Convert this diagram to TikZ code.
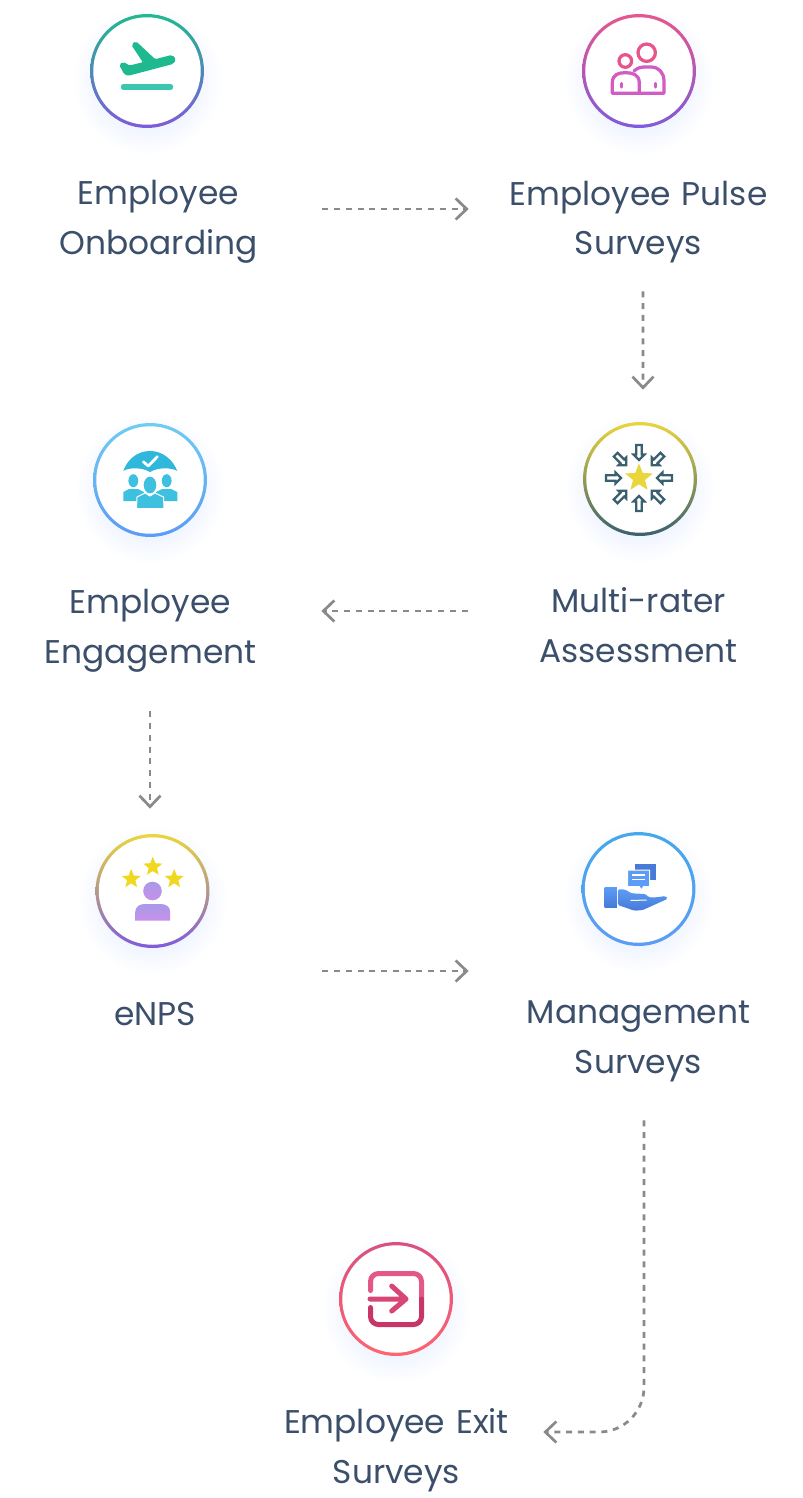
\documentclass[tikz,border=0pt]{standalone}
\usepackage{fontspec}
\setmainfont{Poppins}
\usepackage{tikz}
\usetikzlibrary{shapes.geometric, arrows.meta}
\definecolor{hrtext}{RGB}{59,79,107}
\definecolor{hrgray}{RGB}{138,138,138}
\definecolor{hrglow}{RGB}{213,226,255}
\definecolor{hrgreen}{RGB}{31,185,143}
\definecolor{hrmint}{RGB}{60,198,176}
\definecolor{hrpurple}{RGB}{127,91,219}
\definecolor{hrpink}{RGB}{232,85,140}
\definecolor{hrorchid}{RGB}{208,92,196}
\definecolor{hrsky}{RGB}{112,205,240}
\definecolor{hrblue}{RGB}{92,156,245}
\definecolor{hrhand}{RGB}{72,122,216}
\definecolor{hryellow}{RGB}{234,214,58}
\definecolor{hrslate}{RGB}{58,96,112}
\definecolor{hrazure}{RGB}{69,168,234}
\definecolor{hrrose}{RGB}{217,80,128}
\definecolor{hrcoral}{RGB}{255,101,112}
\definecolor{hrcyan}{RGB}{47,184,220}
\definecolor{hrteam}{RGB}{62,192,224}
\definecolor{hrstar}{RGB}{240,216,32}
\definecolor{hrlilac}{RGB}{168,154,232}
\definecolor{hrmauve}{RGB}{200,144,234}
\definecolor{hrdoortop}{RGB}{228,88,134}
\definecolor{hrdoormid}{RGB}{216,70,118}
\definecolor{hrdoorlow}{RGB}{200,53,104}

\begin{document}
\begin{tikzpicture}[
  x=0.02cm, y=-0.02cm,
  glow/.style={circle, minimum size=3cm, inner sep=0pt, inner color=hrglow, outer color=white},
  ring/.style n args={2}{circle, minimum size=2.28cm, inner sep=0pt, top color=#1, bottom color=#2},
  hole/.style={circle, minimum size=2.15cm, inner sep=0pt, fill=white},
  lab/.style={text width=5.4cm, minimum height=2cm, inner sep=0pt, align=center, text=hrtext, font=\fontsize{18.7}{28.35}\selectfont},
  flow/.style={draw=hrgray, line width=0.055cm, dash pattern=on 0.12cm off 0.115cm, -{Straight Barb[length=0.22cm, width=0.42cm, line width=0.055cm]}},
  rate/.style={star, star points=5, star point ratio=2.3, inner sep=0pt, fill=hrstar, minimum size=0.4cm},
  pulseline/.style={line width=0.065cm, draw=#1, line cap=round, line join=round},
  exitline/.style={line width=0.1cm, draw=#1, line cap=round, line join=round},
  inarrow/.style={draw=hrslate, line width=0.045cm}
]
\path[use as bounding box, fill=white] (0,0) rectangle (802,1498);

% Glows
\node[glow] (gstart) at (147,80) {};
\node[glow] (gpulse) at (639,80) {};
\node[glow] (gengage) at (150,489) {};
\node[glow] (gmulti) at (640,488) {};
\node[glow] (genps) at (152.5,900) {};
\node[glow] (gmgmt) at (638.5,898) {};
\node[glow] (gexit) at (396,1308) {};

% Rings
\node[ring={hrgreen}{hrpurple}] (start) at (147,71) {};
\node[hole] at (start) {};
\node[ring={hrpink}{hrpurple}] (pulse) at (639,71) {};
\node[hole] at (pulse) {};
\node[ring={hrsky}{hrblue}] (engage) at (150,480) {};
\node[hole] at (engage) {};
\node[ring={hryellow}{hrslate}] (multi) at (640,479) {};
\node[hole] at (multi) {};
\node[ring={hryellow}{hrpurple}] (enps) at (152.5,891) {};
\node[hole] at (enps) {};
\node[ring={hrazure}{hrblue}] (mgmt) at (638.5,889) {};
\node[hole] at (mgmt) {};
\node[ring={hrrose}{hrcoral}] (exit) at (396,1299) {};
\node[hole] at (exit) {};

% Labels
\node[lab] (tstart) at (158.5,222) {Employee\\Onboarding};
\node[lab] (tpulse) at (638.5,222) {Employee Pulse\\Surveys};
\node[lab] (tengage) at (150.5,630.5) {Employee\\Engagement};
\node[lab] (tmulti) at (638.5,625) {Multi-rater\\Assessment};
\node[lab] (tenps) at (155,1014) {eNPS};
\node[lab] (tmgmt) at (638.5,1041) {Management\\Surveys};
\node[lab] (texit) at (396.5,1450) {Employee Exit\\Surveys};

% Icon: plane
\begin{scope}[shift={(start.center)}]
\filldraw[fill=hrgreen, draw=hrgreen, line width=0.03cm, line join=round, rounded corners=0.03cm] (-27,-6) -- (-23.7,-8.3) -- (-17.7,-4.7) -- (-3,-8.3) -- (-14.7,-26) -- (-11.3,-29) -- (8,-11) -- (24.7,-15.3) -- (28.3,-11.7) -- (25.7,-7.7) -- (-18.7,4) -- (-22,3) -- cycle;
\draw[line width=0.11cm, line cap=round, draw=hrmint] (-23.5,16) -- (23.5,16);
\end{scope}

% Icon: two people
\begin{scope}[shift={(pulse.center)}]
\draw[pulseline=hrpink] (7.7,-18.3) circle (8.7);
\draw[pulseline=hrpink] (-13.7,-10) circle (6.3);
\draw[pulseline=hrorchid] (-26.7,22.3) -- (-26.7,12) .. controls (-26.7,3) and (-20,1.7) .. (-13.5,1.7) .. controls (-7,1.7) and (0.3,3) .. (0.3,12) -- (0.3,22.3) -- cycle;
\draw[pulseline=hrorchid] (-5,0) .. controls (-2,-3) and (2,-4) .. (6,-4) -- (12,-4) .. controls (20,-4) and (25,2) .. (25,10) -- (25,22.3) -- (0.3,22.3);
\draw[pulseline=hrorchid] (-17.3,12.5) -- (-17.3,16) (16.7,12.5) -- (16.7,16);
\end{scope}

% Icon: umbrella and team
\begin{scope}[shift={(engage.center)}]
\fill[hrcyan] (-26.7,-9) .. controls (-23,-20) and (-13,-29) .. (0,-29) .. controls (13,-29) and (23,-20) .. (27.3,-9) .. controls (22,-12.5) and (8,-13) .. (0,-8) .. controls (-8,-13) and (-22,-12.5) .. (-26.7,-9) -- cycle;
\draw[white, line width=0.055cm, line cap=round, line join=round] (-6.7,-18.3) -- (-1.7,-14) -- (7.3,-23.3);
\fill[hrteam] (-16.7,0.7) ellipse (4.9 and 6.5);
\fill[hrteam] (16.7,0.7) ellipse (4.9 and 6.5);
\fill[hrteam] (-26.7,21) -- (-26.7,12) -- (-21,9) -- (-12,9) -- (-6,12) -- (-6,21) -- cycle;
\fill[hrteam] (27.3,21) -- (27.3,12) -- (21,9) -- (12,9) -- (6,12) -- (6,21) -- cycle;
\filldraw[fill=hrteam, draw=white, line width=0.02cm] (0,5) ellipse (6.9 and 9);
\filldraw[fill=hrteam, draw=white, line width=0.02cm] (-13.5,28.5) -- (-13,17) -- (-5,13) -- (0,16) -- (5,13) -- (13.5,17) -- (14,28.5) -- cycle;
\end{scope}

% Icon: star and arrows
\begin{scope}[shift={(multi.center)}]
\node[rate, fill=hryellow, minimum size=0.58cm] (mstar) at (-1,-1) {};
\foreach \a in {0,45,...,315}
  \draw[inarrow, rotate around={\a:(-1,-1)}] (17,-1) -- (22.5,-6.5) -- (22.5,-3.7) -- (32,-3.7) -- (32,1.7) -- (22.5,1.7) -- (22.5,4.5) -- cycle;
\end{scope}

% Icon: person with stars
\begin{scope}[shift={(enps.center)}]
\node[rate] (nstarc) at (0.3,-24.3) {};
\node[rate] (nstarl) at (-21.3,-12) {};
\node[rate] (nstarr) at (21.7,-12) {};
\shade[top color=hrlilac, bottom color=hrmauve] (0,0) circle (9.3);
\shade[top color=hrlilac, bottom color=hrmauve] (-17.3,29.7) -- (-17.3,21) .. controls (-17.3,16) and (-13,13) .. (-8,13) -- (8,13) .. controls (14,13) and (17.7,16) .. (17.7,21) -- (17.7,29.7) -- cycle;
\end{scope}

% Icon: hand with speech bubbles
\begin{scope}[shift={(mgmt.center)}]
\fill[hrhand] (-3.7,-25) rectangle (17.7,-9);
\filldraw[fill=hrblue, draw=white, line width=0.02cm] (-11,-19) -- (11,-19) -- (11,-2.3) -- (5,-2.3) -- (2.7,1) -- (1,-2.3) -- (-11,-2.3) -- cycle;
\draw[white, line width=0.03cm] (-6.3,-14) -- (6.3,-14) (-6.3,-9.7) -- (6.3,-9.7);
\shade[top color=hrblue, bottom color=hrhand] (-34,-1.7) rectangle (-21.7,18.3);
\shade[top color=hrblue, bottom color=hrhand, rounded corners=0.03cm] (-20.7,0.3) -- (-14,0.3) -- (-7,4.3) -- (7,5) -- (10.3,8.3) -- (18,8.3) -- (27,7) -- (29.3,9.7) -- (4.3,21) -- (-4,21.7) -- (-20.7,16) -- cycle;
\draw[white, line width=0.02cm] (-8,11.5) -- (8,11);
\end{scope}

% Icon: exit door
\begin{scope}[shift={(exit.center)}]
\draw[exitline=hrdoortop, rounded corners=0.16cm] (-25.5,-8.5) -- (-25.5,-25.5) -- (25.5,-25.5) -- (25.5,0);
\draw[exitline=hrdoorlow, rounded corners=0.16cm] (25.5,0) -- (25.5,25.5) -- (-25.5,25.5) -- (-25.5,8.5);
\draw[exitline=hrdoormid] (-26,0) -- (9,0) (-4.3,-13) -- (10,0) -- (-4.3,12);
\end{scope}

% Arrows
\draw[flow] ([shift={(28.5,-13)}]tstart.east) -- ([shift={(-34.5,-13)}]tpulse.west);
\draw[flow] ([shift={(4.5,19)}]tpulse.south) -- ([shift={(3,-32)}]multi.north);
\draw[flow] ([shift={(-35.5,-14)}]tmulti.west) -- ([shift={(35.5,-19.5)}]tengage.east);
\draw[flow] ([shift={(-0.5,30.5)}]tengage.south) -- ([shift={(-2.5,-25)}]enps.north);
\draw[flow] ([shift={(32,-43)}]tenps.east) -- ([shift={(-34.5,-70)}]tmgmt.west);
\draw[flow, rounded corners=0.9cm] ([shift={(5.5,29)}]tmgmt.south) |- ([shift={(11.5,-18)}]texit.east);

\end{tikzpicture}
\end{document}
